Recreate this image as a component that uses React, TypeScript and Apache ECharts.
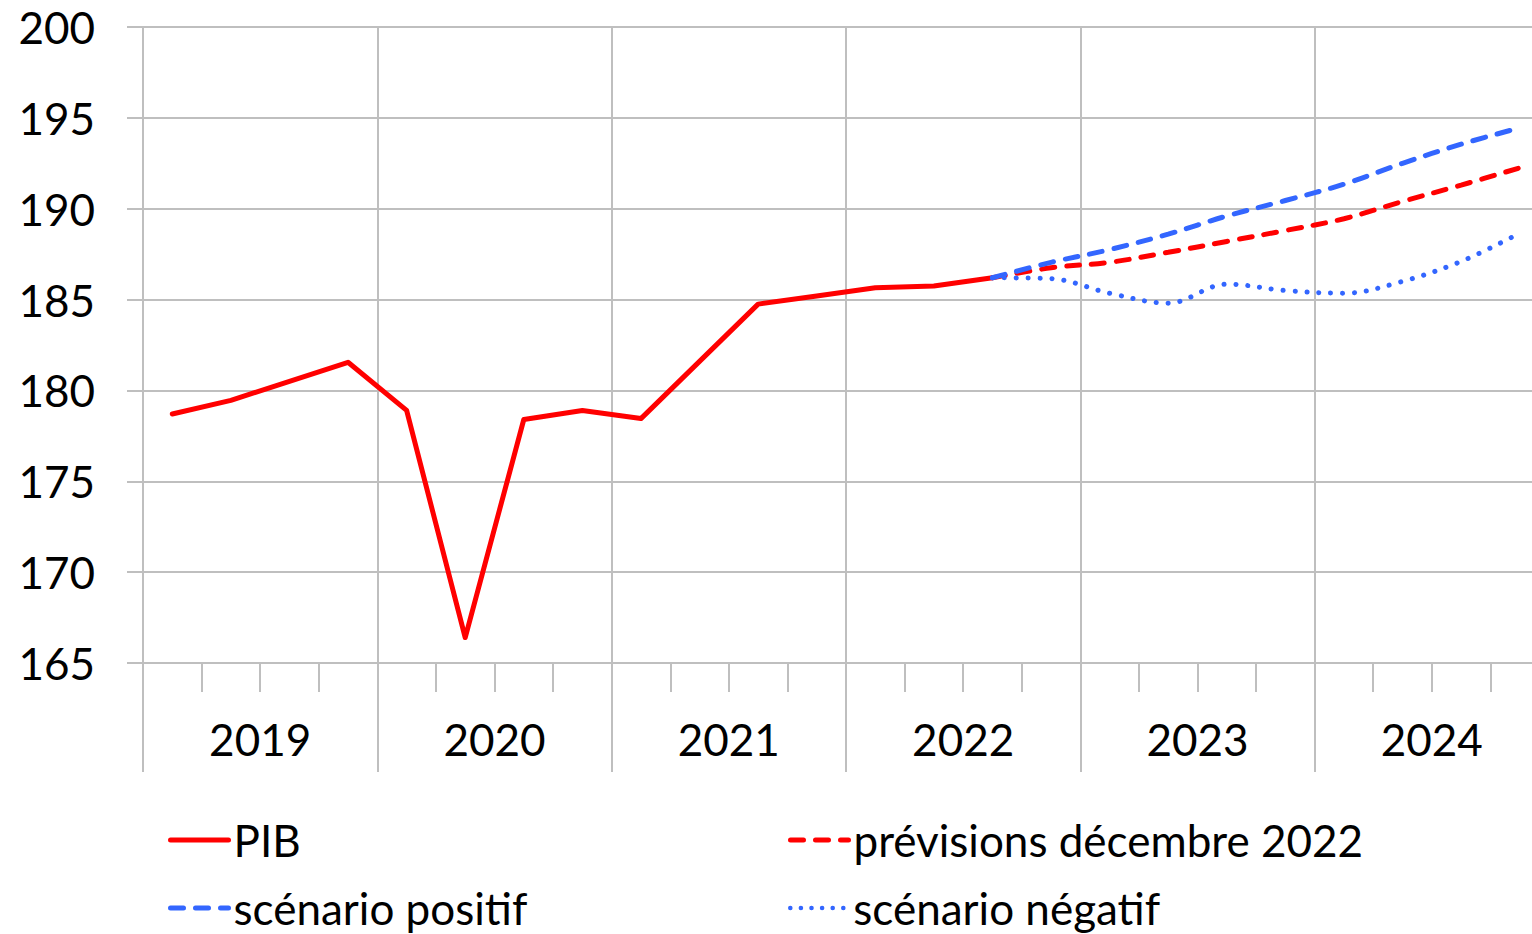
import React, { useEffect, useRef } from 'react';
import * as echarts from 'echarts';

const quarters = [
  '2019 T1', '2019 T2', '2019 T3', '2019 T4',
  '2020 T1', '2020 T2', '2020 T3', '2020 T4',
  '2021 T1', '2021 T2', '2021 T3', '2021 T4',
  '2022 T1', '2022 T2', '2022 T3', '2022 T4',
  '2023 T1', '2023 T2', '2023 T3', '2023 T4',
  '2024 T1', '2024 T2', '2024 T3', '2024 T4',
];
const years = ['2019', '2020', '2021', '2022', '2023', '2024'];

// PIB 2019 T1 .. 2022 T3
const pib = [178.7, 179.45, 180.5, 181.55, 178.9, 166.4, 178.4, 178.9, 178.45, 181.6, 184.75, 185.2, 185.65, 185.75, 186.2];
// Forecasts 2022 T3 .. 2024 T4
const forecastQuarters = quarters.slice(14);
const previsions = [186.2, 186.75, 187.05, 187.6, 188.2, 188.8, 189.45, 190.4, 191.3, 192.25];
const positif = [186.2, 187.05, 187.75, 188.6, 189.6, 190.45, 191.35, 192.5, 193.55, 194.45];
const negatif = [186.2, 186.15, 185.35, 184.8, 185.85, 185.5, 185.35, 186.0, 187.1, 188.65];

const yTicks = { min: 165, max: 200, interval: 5 };

const FONT = 'Lato';
const FS = 44;
const GRID_COLOR = '#bfbfbf';
const RED = '#ff0000';
const BLUE = '#3366ff';
const DASH = [13, 12];
const DOT = [0.1, 11.8];

export default function App() {
  const ref = useRef<HTMLDivElement>(null);

  useEffect(() => {
    if (!ref.current) return;
    const chart = echarts.init(ref.current, null, { renderer: 'svg' });

    const legendBase: any = {
      orient: 'horizontal',
      itemWidth: 58,
      itemHeight: 14,
      itemGap: 0,
      padding: 0,
      selectedMode: false,
      itemStyle: { opacity: 0 },
      textStyle: { fontFamily: FONT, fontSize: FS, color: '#000', lineHeight: 40 },
    };

    const option: any = {
      animation: false,
      backgroundColor: '#ffffff',
      textStyle: { fontFamily: FONT },
      grid: { left: 143, right: -17, top: 27, bottom: 271, containLabel: false, outerBoundsMode: 'none' },
      legend: [
        { ...legendBase, data: ['PIB'], left: 168, top: 818, lineStyle: { width: 5, cap: 'round', color: RED } },
        { ...legendBase, data: ['prévisions décembre 2022'], left: 788, top: 818, lineStyle: { width: 5, type: DASH, cap: 'round', color: RED } },
        { ...legendBase, data: ['scénario positif'], left: 168, top: 886, lineStyle: { width: 5, type: DASH, cap: 'round', color: BLUE } },
        { ...legendBase, data: ['scénario négatif'], left: 788, top: 886, lineStyle: { width: 4.5, type: [0.1, 10.5], cap: 'round', color: BLUE } },
      ],
      xAxis: [
        {
          type: 'category',
          data: quarters,
          boundaryGap: true,
          position: 'bottom',
          axisLine: { show: true, lineStyle: { color: GRID_COLOR, width: 2 } },
          axisTick: { show: true, interval: 0, length: 29, lineStyle: { color: GRID_COLOR, width: 2 } },
          axisLabel: { show: false },
          splitLine: { show: false },
        },
        {
          type: 'category',
          data: years,
          boundaryGap: true,
          position: 'bottom',
          axisLine: { show: false },
          axisTick: { show: true, interval: 0, length: 109, lineStyle: { color: GRID_COLOR, width: 2 } },
          axisLabel: { show: true, interval: 0, margin: 54, fontFamily: FONT, fontSize: FS, color: '#000' },
          splitLine: { show: true, interval: 0, lineStyle: { color: GRID_COLOR, width: 2 } },
        },
      ],
      yAxis: {
        type: 'value',
        min: yTicks.min,
        max: yTicks.max,
        interval: yTicks.interval,
        axisLine: { show: true, lineStyle: { color: GRID_COLOR, width: 2 } },
        axisTick: { show: true, length: 16, lineStyle: { color: GRID_COLOR, width: 2 } },
        axisLabel: { margin: 48, fontFamily: FONT, fontSize: FS, color: '#000' },
        splitLine: { show: true, lineStyle: { color: GRID_COLOR, width: 2 } },
      },
      series: [
        {
          name: 'PIB',
          type: 'line',
          xAxisIndex: 0,
          data: pib.map((v, i) => [quarters[i], v]),
          symbol: 'none',
          lineStyle: { color: RED, width: 5, cap: 'round', join: 'round' },
          itemStyle: { color: RED },
        },
        {
          name: 'prévisions décembre 2022',
          type: 'line',
          xAxisIndex: 0,
          data: previsions.map((v, i) => [forecastQuarters[i], v]),
          symbol: 'none',
          smooth: 0.35,
          lineStyle: { color: RED, width: 5, type: DASH, cap: 'round' },
          itemStyle: { color: RED },
        },
        {
          name: 'scénario positif',
          type: 'line',
          xAxisIndex: 0,
          data: positif.map((v, i) => [forecastQuarters[i], v]),
          symbol: 'none',
          smooth: 0.35,
          lineStyle: { color: BLUE, width: 5, type: DASH, cap: 'round' },
          itemStyle: { color: BLUE },
        },
        {
          name: 'scénario négatif',
          type: 'line',
          xAxisIndex: 0,
          data: negatif.map((v, i) => [forecastQuarters[i], v]),
          symbol: 'none',
          smooth: 0.35,
          lineStyle: { color: BLUE, width: 5, type: DOT, cap: 'round' },
          itemStyle: { color: BLUE },
        },
      ],
    };

    chart.setOption(option);
    return () => chart.dispose();
  }, []);

  return (
    <div
      ref={ref}
      style={{ position: 'fixed', left: 0, top: 0, width: 1532, height: 934, background: '#fff' }}
    />
  );
}
